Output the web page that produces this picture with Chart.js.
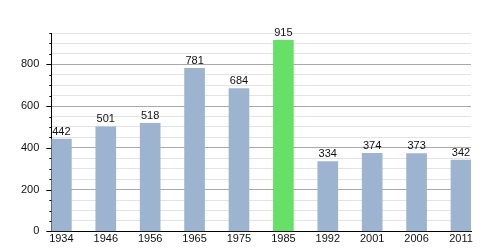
<!DOCTYPE html>
<html>
<head>
<meta charset="utf-8">
<script src="https://cdn.jsdelivr.net/npm/chart.js@4.4.0/dist/chart.umd.min.js"></script>
<style>
  html, body { margin: 0; padding: 0; background: #fff; }
  #wrap { width: 500px; height: 250px; }
</style>
</head>
<body>
<div id="wrap"><canvas id="popChart" width="500" height="250"></canvas></div>
<script>
var years = ["1934", "1946", "1956", "1965", "1975", "1985", "1992", "2001", "2006", "2011"];
var population = [442, 501, 518, 781, 684, 915, 334, 374, 373, 342];
var yTicks = [0, 200, 400, 600, 800];

var blue = "#9cb4cf";
var green = "#66e066";

// value labels above bars + y tick marks
var extras = {
  id: 'extras',
  afterDatasetsDraw: function (chart) {
    var ctx = chart.ctx;
    var meta = chart.getDatasetMeta(0);
    ctx.save();
    ctx.fillStyle = "#111";
    ctx.font = "11px 'Liberation Sans', Arial, sans-serif";
    ctx.textAlign = "center";
    ctx.textBaseline = "bottom";
    meta.data.forEach(function (bar, i) {
      ctx.fillText(String(population[i]), bar.x, bar.y - 2);
    });
    var y = chart.scales.y;
    ctx.strokeStyle = "#000";
    ctx.lineWidth = 1;
    for (var v = 0; v <= 950; v += 50) {
      var py = Math.round(y.getPixelForValue(v)) + 0.5;
      var len = v % 200 === 0 ? 5 : 2;
      ctx.beginPath();
      ctx.moveTo(y.right - len, py);
      ctx.lineTo(y.right, py);
      ctx.stroke();
    }
    ctx.restore();
  }
};

var popChart = new Chart(document.getElementById('popChart'), {
  type: 'bar',
  data: {
    datasets: [{
      data: population.map(function (v, i) { return { x: i, y: v }; }),
      backgroundColor: years.map(function (y) { return y === "1985" ? green : blue; }),
      barThickness: 20,
      borderWidth: 0
    }]
  },
  options: {
    responsive: false,
    animation: false,
    layout: {
      padding: { left: 9, right: 29, top: 33, bottom: 0 }
    },
    plugins: {
      legend: { display: false },
      tooltip: { enabled: false }
    },
    scales: {
      x: {
        type: 'linear',
        offset: false,
        min: -0.2256,
        max: 9.2256,
        afterBuildTicks: function (scale) {
          scale.ticks = years.map(function (y, i) { return { value: i }; });
        },
        ticks: {
          color: "#111",
          font: { family: "'Liberation Sans', Arial, sans-serif", size: 11 },
          padding: 1,
          maxRotation: 0,
          autoSkip: false,
          callback: function (v) { return years[v]; }
        },
        grid: { display: false, drawTicks: false },
        border: { color: "#000", width: 1 }
      },
      y: {
        min: 0,
        max: 950,
        afterBuildTicks: function (scale) {
          var t = [];
          for (var v = 0; v <= 950; v += 50) t.push({ value: v });
          scale.ticks = t;
        },
        ticks: {
          color: "#111",
          font: { family: "'Liberation Sans', Arial, sans-serif", size: 11 },
          padding: 12,
          autoSkip: false,
          callback: function (v) { return yTicks.indexOf(v) >= 0 ? String(v) : ''; }
        },
        grid: {
          drawTicks: false,
          color: function (c) {
            return c.tick && c.tick.value % 200 === 0 ? "#a9a9a9" : "#e3e3e3";
          }
        },
        border: { color: "#000", width: 1 }
      }
    }
  },
  plugins: [extras]
});
</script>
</body>
</html>
